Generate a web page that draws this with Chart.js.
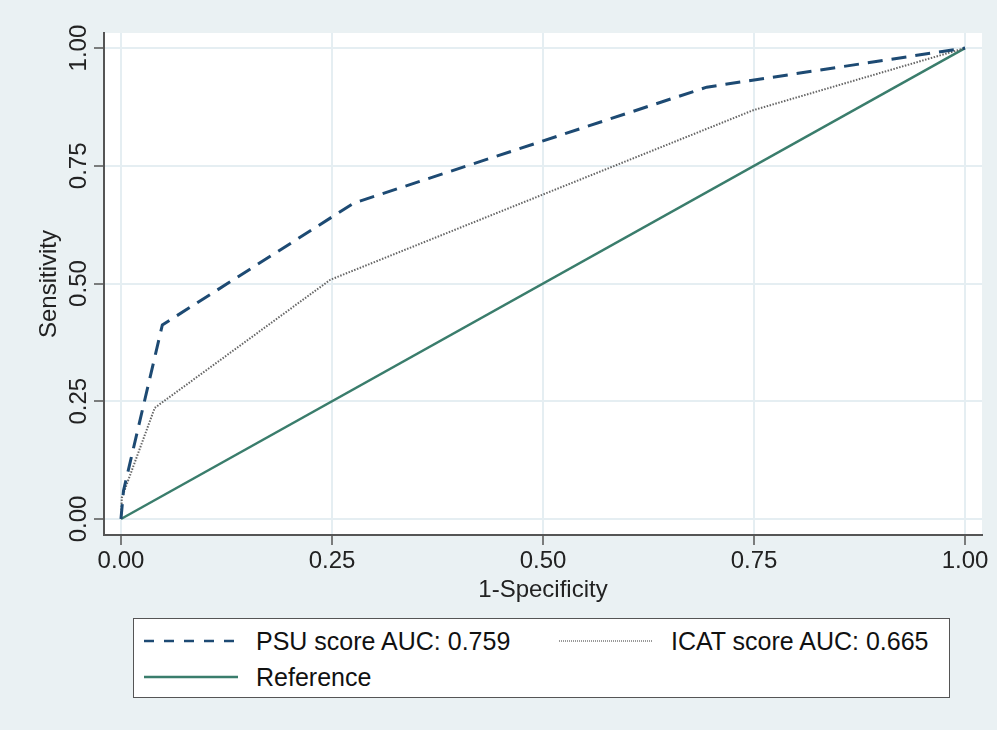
<!DOCTYPE html>
<html>
<head>
<meta charset="utf-8">
<script src="https://cdn.jsdelivr.net/npm/chart.js@4/dist/chart.umd.min.js"></script>
<style>
  html, body { margin: 0; padding: 0; background: #eaf1f3; }
  #wrap { position: relative; width: 997px; height: 730px; background: #eaf1f3; }
  #c { position: absolute; left: 0; top: 0; }
  #legend { position: absolute; left: 133px; top: 618px; width: 817px; height: 80px;
            background: #fff; border: 1.5px solid #555; box-sizing: border-box;
            font-family: "Liberation Sans", Arial, sans-serif; font-size: 25px; color: #111; }
  .item { position: absolute; display: flex; align-items: center; height: 30px; }
  .item svg { margin-right: 17px; }
</style>
</head>
<body>
<div id="wrap">
  <canvas id="c" width="997" height="730"></canvas>
  <div id="legend"></div>
</div>
<script>
// ---- data ----
const tickValues = [0, 0.25, 0.5, 0.75, 1];
const psuX  = [0, 0.003, 0.049, 0.276, 0.694, 1];
const psuY  = [0, 0.06, 0.412, 0.671, 0.917, 1];
const icatX = [0, 0.001, 0.040, 0.248, 0.749, 1];
const icatY = [0, 0.045, 0.236, 0.508, 0.868, 1];
const refX  = [0, 1];
const refY  = [0, 1];
const seriesNames = ["PSU score AUC: 0.759", "ICAT score AUC: 0.665", "Reference"];
const xTitle = "1-Specificity";
const yTitle = "Sensitivity";

const colPSU = "#1d4a73", colICAT = "#666666", colRef = "#3a7d6c";
const toPts = (xs, ys) => xs.map((x, i) => ({x: x, y: ys[i]}));

const FONT = "'Liberation Sans', Arial, sans-serif";

const plotBg = {
  id: 'plotBg',
  beforeDraw(chart) {
    const {ctx, chartArea: a} = chart;
    ctx.save();
    ctx.fillStyle = '#ffffff';
    ctx.fillRect(a.left, a.top, a.right - a.left, a.bottom - a.top);
    ctx.restore();
  }
};

const fixedTicks = (scale) => { scale.ticks = tickValues.map(v => ({value: v})); };

new Chart(document.getElementById('c'), {
  type: 'scatter',
  data: {
    datasets: [
      { label: seriesNames[0], data: toPts(psuX, psuY), showLine: true, borderColor: colPSU,
        borderWidth: 3, borderDash: [15, 9], pointRadius: 0, fill: false, tension: 0 },
      { label: seriesNames[1], data: toPts(icatX, icatY), showLine: true, borderColor: colICAT,
        borderWidth: 2, borderDash: [1.5, 1.5], pointRadius: 0, fill: false, tension: 0 },
      { label: seriesNames[2], data: toPts(refX, refY), showLine: true, borderColor: colRef,
        borderWidth: 2.5, pointRadius: 0, fill: false, tension: 0 }
    ]
  },
  options: {
    responsive: false,
    animation: false,
    devicePixelRatio: 1,
    layout: { padding: { left: 0, top: 33, right: 15, bottom: 125 } },
    plugins: { legend: { display: false }, tooltip: { enabled: false } },
    scales: {
      x: {
        type: 'linear', min: -0.0201, max: 1.0201,
        afterBuildTicks: fixedTicks,
        afterFit: (s) => { s.height = 70; },
        grid: { color: '#e5eef2', lineWidth: 2, drawTicks: true, tickLength: 10, tickColor: '#555', tickWidth: 1.5 },
        border: { color: '#555', width: 2 },
        ticks: { callback: (v) => Number(v).toFixed(2), font: { family: FONT, size: 24 }, color: '#222', padding: 2, maxRotation: 0, minRotation: 0 },
        title: { display: true, text: xTitle, font: { family: FONT, size: 24 }, color: '#222', padding: { top: 0, bottom: 0 } }
      },
      y: {
        type: 'linear', min: -0.034, max: 1.032,
        afterBuildTicks: fixedTicks,
        afterFit: (s) => { s.width = 104; },
        grid: { color: '#e5eef2', lineWidth: 2, drawTicks: true, tickLength: 10, tickColor: '#555', tickWidth: 1.5 },
        border: { color: '#555', width: 2 },
        ticks: { callback: (v) => Number(v).toFixed(2), font: { family: FONT, size: 24 }, color: '#222',
                 padding: -9, minRotation: 90, maxRotation: 90, crossAlign: 'center' },
        title: { display: true, text: yTitle, font: { family: FONT, size: 24 }, color: '#222', padding: { top: 35, bottom: 0 } }
      }
    }
  },
  plugins: [plotBg]
});

// ---- legend (HTML) ----
const lg = document.getElementById('legend');
const items = [
  { name: seriesNames[0], left: 9,   top: 7,  color: colPSU,  w: 2.5, dash: '10 10' },
  { name: seriesNames[1], left: 424, top: 7,  color: '#999',  w: 2,   dash: '1 1' },
  { name: seriesNames[2], left: 9,   top: 43, color: colRef,  w: 2.5, dash: '' }
];
items.forEach(it => {
  const d = document.createElement('div');
  d.className = 'item';
  d.style.left = it.left + 'px';
  d.style.top = it.top + 'px';
  d.innerHTML = '<svg width="96" height="10"><line x1="1" y1="5" x2="95" y2="5" stroke="' + it.color +
    '" stroke-width="' + it.w + '"' + (it.dash ? ' stroke-dasharray="' + it.dash + '"' : '') + '/></svg>';
  const s = document.createElement('span');
  s.textContent = it.name;
  d.appendChild(s);
  lg.appendChild(d);
});
</script>
</body>
</html>
